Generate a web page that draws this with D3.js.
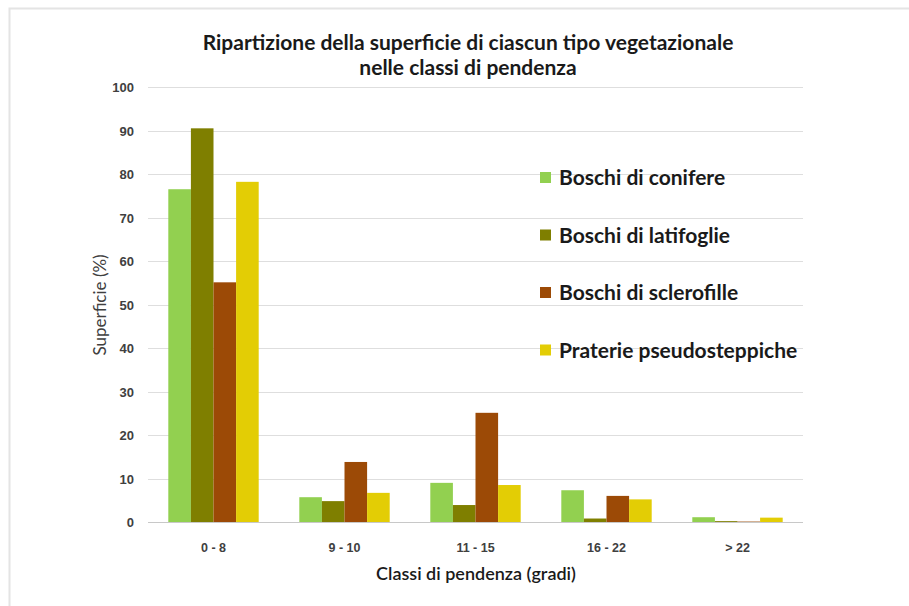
<!DOCTYPE html>
<html>
<head>
<meta charset="utf-8">
<script src="https://cdn.jsdelivr.net/npm/d3@7"></script>
<style>
  body { margin: 0; background: #fff; }
  svg { font-family: Lato, "Open Sans", sans-serif; }
</style>
</head>
<body>
<script>
const categories = ["0 - 8", "9 - 10", "11 - 15", "16 - 22", "> 22"];
const seriesNames = ["Boschi di conifere", "Boschi di latifoglie", "Boschi di sclerofille", "Praterie pseudosteppiche"];
const conifere = [76.5, 5.7, 9.0, 7.3, 1.1];
const latifoglie = [90.5, 4.8, 3.9, 0.8, 0.2];
const sclerofille = [55.1, 13.8, 25.1, 6.0, 0.1];
const praterie = [78.2, 6.7, 8.5, 5.2, 1.0];
const yTicks = [0, 10, 20, 30, 40, 50, 60, 70, 80, 90, 100];
const colors = ["#92d050", "#7f7f00", "#9c4a06", "#e3cd05"];

const values = [conifere, latifoglie, sclerofille, praterie];
const w = 909, h = 606;

const svg = d3.select("body")
              .append("svg")
              .attr("width", w)
              .attr("height", h)

// faint frame
svg.append("rect")
   .attr("x", 9.5)
   .attr("y", 8.5)
   .attr("width", w + 20)
   .attr("height", h + 20)
   .attr("fill", "none")
   .attr("stroke", "#e4e4e4")
   .attr("stroke-width", 2)

const x0 = d3.scaleBand()
             .domain(categories)
             .range([148, 803])
             .paddingInner(0.31)
             .paddingOuter(0.155)

const x1 = d3.scaleBand()
             .domain(seriesNames)
             .range([0, x0.bandwidth()])

const y = d3.scaleLinear()
            .domain([0, 100])
            .range([522, 87])

// gridlines
svg.append("g")
   .selectAll("line")
   .data(yTicks)
   .enter()
   .append("line")
   .attr("x1", 148)
   .attr("x2", 803)
   .attr("y1", d => Math.round(y(d)) + 0.5)
   .attr("y2", d => Math.round(y(d)) + 0.5)
   .attr("stroke", d => d === 0 ? "#c8c8c8" : "#dedede")

const yAxis = d3.axisLeft(y).tickValues(yTicks).tickSize(0).tickPadding(0)
svg.append("g")
   .attr("transform", "translate(134,0)")
   .call(yAxis)
   .call(g => g.select(".domain").remove())
   .selectAll("text")
   .attr("dy", "0.35em")
   .style("font-size", "13px")
   .style("font-weight", "bold")
   .style("fill", "#404040")

const xAxis = d3.axisBottom(x0).tickSize(0).tickPadding(0)
svg.append("g")
   .attr("transform", "translate(0,543)")
   .call(xAxis)
   .call(g => g.select(".domain").remove())
   .selectAll("text")
   .attr("dy", "0.71em")
   .style("font-size", "12.5px")
   .style("font-weight", "bold")
   .style("fill", "#404040")

// bars
const groups = svg.append("g")
                  .selectAll("g")
                  .data(categories)
                  .enter()
                  .append("g")
                  .attr("transform", d => "translate(" + x0(d) + ",0)")

groups.selectAll("rect")
      .data((c, i) => seriesNames.map((s, j) => ({ s: s, v: values[j][i], j: j })))
      .enter()
      .append("rect")
      .attr("x", d => x1(d.s))
      .attr("y", d => y(d.v))
      .attr("width", x1.bandwidth())
      .attr("height", d => y(0) - y(d.v))
      .attr("fill", d => colors[d.j])

// title
svg.append("text")
   .attr("x", 468)
   .attr("y", 50)
   .attr("text-anchor", "middle")
   .style("font-size", "21px")
   .style("font-weight", "bold")
   .style("fill", "#1a1a1a")
   .text("Ripartizione della superficie di ciascun tipo vegetazionale")
svg.append("text")
   .attr("x", 468)
   .attr("y", 75)
   .attr("text-anchor", "middle")
   .style("font-size", "21px")
   .style("font-weight", "bold")
   .style("fill", "#1a1a1a")
   .text("nelle classi di pendenza")

// axis titles
svg.append("text")
   .attr("transform", "translate(106,305) rotate(-90)")
   .attr("text-anchor", "middle")
   .style("font-size", "17px")
   .style("fill", "#404040")
   .text("Superficie (%)")

svg.append("text")
   .attr("x", 476)
   .attr("y", 580)
   .attr("text-anchor", "middle")
   .style("font-size", "18px")
   .style("font-weight", "600")
   .style("fill", "#1a1a1a")
   .text("Classi di pendenza (gradi)")

// legend
const legend = svg.append("g")
const items = legend.selectAll("g")
                    .data(seriesNames)
                    .enter()
                    .append("g")
                    .attr("transform", (d, i) => "translate(0," + (178 + i * 57.5) + ")")
items.append("rect")
     .attr("x", 540)
     .attr("y", -6)
     .attr("width", 11)
     .attr("height", 11)
     .attr("fill", (d, i) => colors[i])
items.append("text")
     .attr("x", 559)
     .attr("y", 0)
     .attr("dy", "0.35em")
     .style("font-size", "21px")
     .style("font-weight", "bold")
     .style("fill", "#1a1a1a")
     .text(d => d)
</script>
</body>
</html>
